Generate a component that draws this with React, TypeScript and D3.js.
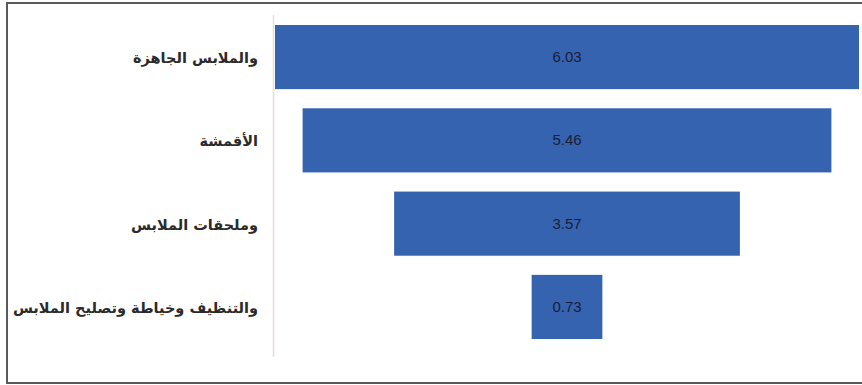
import React from "react";
import * as d3 from "d3";

const categories = [
  "والملابس الجاهزة",
  "الأقمشة",
  "وملحقات الملابس",
  "والتنظيف وخياطة وتصليح الملابس",
];
const values = [6.03, 5.46, 3.57, 0.73];

export default function App() {
  const W = 862;
  const H = 385;
  const plotLeft = 275;
  const plotRight = 859;
  const center = (plotLeft + plotRight) / 2;

  const x = d3.scaleLinear().domain([0, d3.max(values) as number]).range([0, plotRight - plotLeft]);
  const y = d3.scaleBand<string>().domain(categories).range([25, 339]).paddingInner(0.23).paddingOuter(0);

  return (
    <svg width={W} height={H} style={{ position: "absolute", left: 0, top: 0 }}>
      <rect x={0} y={0} width={W} height={H} fill="#ffffff" />
      <rect x={7} y={3} width={W} height={380} fill="none" stroke="#5a5a5a" strokeWidth={2} />
      <line x1={273.5} x2={273.5} y1={15} y2={357} stroke="#e4e0dc" strokeWidth={1.5} />
      {categories.map((c, i) => {
        const w = x(values[i]);
        const by = y(c) as number;
        const bh = y.bandwidth();
        return (
          <g key={c}>
            <rect x={center - w / 2} y={by} width={w} height={bh} fill="#3563b0" />
            <text
              x={center}
              y={by + bh / 2 + 1}
              textAnchor="middle"
              dominantBaseline="middle"
              fontFamily="'Liberation Sans', Arial, sans-serif"
              fontSize={15}
              fill="#1a1d38"
            >
              {values[i].toFixed(2)}
            </text>
            <text
              x={258}
              y={by + bh / 2 + 2}
              textAnchor="end"
              dominantBaseline="middle"
              fontFamily="'DejaVu Sans', sans-serif"
              fontSize={14.5}
              fontWeight="bold"
              fill="#2a2a2a"
            >
              {c}
            </text>
          </g>
        );
      })}
    </svg>
  );
}
